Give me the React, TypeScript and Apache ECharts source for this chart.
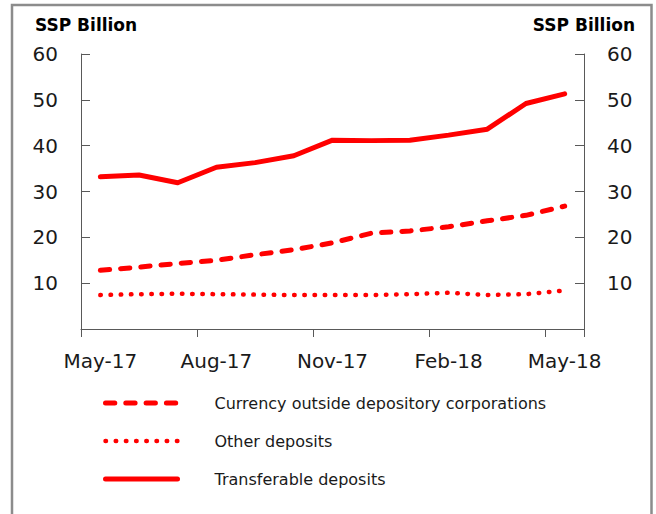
import React, { useEffect, useRef } from "react";
import * as echarts from "echarts";

const categories = [
  "May-17", "Jun-17", "Jul-17", "Aug-17", "Sep-17", "Oct-17", "Nov-17",
  "Dec-17", "Jan-18", "Feb-18", "Mar-18", "Apr-18", "May-18",
];
const currencyOutside = [12.8, 13.5, 14.3, 15.0, 16.2, 17.3, 18.8, 20.9, 21.4, 22.3, 23.6, 24.8, 26.8];
const otherDeposits = [7.4, 7.6, 7.7, 7.6, 7.5, 7.4, 7.4, 7.4, 7.6, 7.9, 7.4, 7.6, 8.4];
const transferableDeposits = [33.2, 33.6, 31.9, 35.3, 36.3, 37.8, 41.2, 41.1, 41.2, 42.3, 43.6, 49.2, 51.3];
const seriesNames = [
  "Currency outside depository corporations",
  "Other deposits",
  "Transferable deposits",
];
const axisTitle = "SSP Billion";

const FONT = "'DejaVu Sans', sans-serif";
const RED = "#ff0000";
const AXIS = "#595959";
const TEXT = "#1a1a1a";

export default function App() {
  const ref = useRef<HTMLDivElement>(null);

  useEffect(() => {
    if (!ref.current) return;
    const chart = echarts.init(ref.current, null, { renderer: "svg" });

    const yAxisCommon = {
      type: "value",
      min: 0,
      max: 60,
      interval: 10,
      splitLine: { show: false },
      axisLine: { show: true, lineStyle: { color: AXIS, width: 1 } },
      axisTick: { show: true, inside: true, length: 9, lineStyle: { color: AXIS } },
      axisLabel: {
        fontFamily: FONT,
        fontSize: 20,
        color: TEXT,
        margin: 23,
        formatter: (v: number) => (v === 0 ? "" : String(v)),
      },
    };

    chart.setOption({
      animation: false,
      backgroundColor: "#ffffff",
      title: [
        {
          text: axisTitle,
          left: 35,
          top: 16,
          padding: 0,
          textStyle: { fontFamily: FONT, fontWeight: "bold", fontSize: 17, color: "#000" },
        },
        {
          text: axisTitle,
          right: 21,
          top: 16,
          padding: 0,
          textStyle: { fontFamily: FONT, fontWeight: "bold", fontSize: 17, color: "#000" },
        },
      ],
      graphic: [
        {
          type: "rect",
          shape: { x: 12, y: 5, width: 639.5, height: 530 },
          style: { fill: "none", stroke: "#8c8c8c", lineWidth: 2.5 },
          silent: true,
        },
      ],
      grid: { left: 81, right: 72, top: 54, bottom: 185, containLabel: false },
      xAxis: {
        type: "category",
        data: categories,
        boundaryGap: true,
        axisLine: { show: true, lineStyle: { color: AXIS, width: 1 } },
        axisTick: { show: true, interval: 2, length: 8, lineStyle: { color: AXIS } },
        axisLabel: { interval: 2, fontFamily: FONT, fontSize: 20, color: TEXT, margin: 22 },
        splitLine: { show: false },
      },
      yAxis: [
        { ...yAxisCommon, position: "left" },
        { ...yAxisCommon, position: "right" },
      ],
      legend: {
        orient: "vertical",
        left: 103,
        top: 395,
        padding: 0,
        itemWidth: 72,
        itemHeight: 16,
        itemGap: 22,
        data: seriesNames,
        itemStyle: { color: "transparent", borderWidth: 0, opacity: 0 },
        lineStyle: { width: "inherit", opacity: 1 },
        textStyle: {
          fontFamily: FONT,
          fontSize: 16,
          color: TEXT,
          padding: [0, 0, 0, 32],
        },
        selectedMode: false,
      },
      series: [
        {
          name: seriesNames[0],
          type: "line",
          data: currencyOutside,
          symbol: "none",
          lineStyle: { color: RED, width: 5, type: [9.3, 11], cap: "round", join: "round" },
          itemStyle: { color: RED },
        },
        {
          name: seriesNames[1],
          type: "line",
          data: otherDeposits,
          symbol: "none",
          lineStyle: { color: RED, width: 4.5, type: [0.5, 9.7], cap: "round", join: "round" },
          itemStyle: { color: RED },
        },
        {
          name: seriesNames[2],
          type: "line",
          data: transferableDeposits,
          symbol: "none",
          lineStyle: { color: RED, width: 5, type: "solid", cap: "round", join: "round" },
          itemStyle: { color: RED },
        },
      ],
    });

    return () => chart.dispose();
  }, []);

  return (
    <div
      ref={ref}
      style={{ position: "absolute", left: 0, top: 0, width: 656, height: 514 }}
    />
  );
}
